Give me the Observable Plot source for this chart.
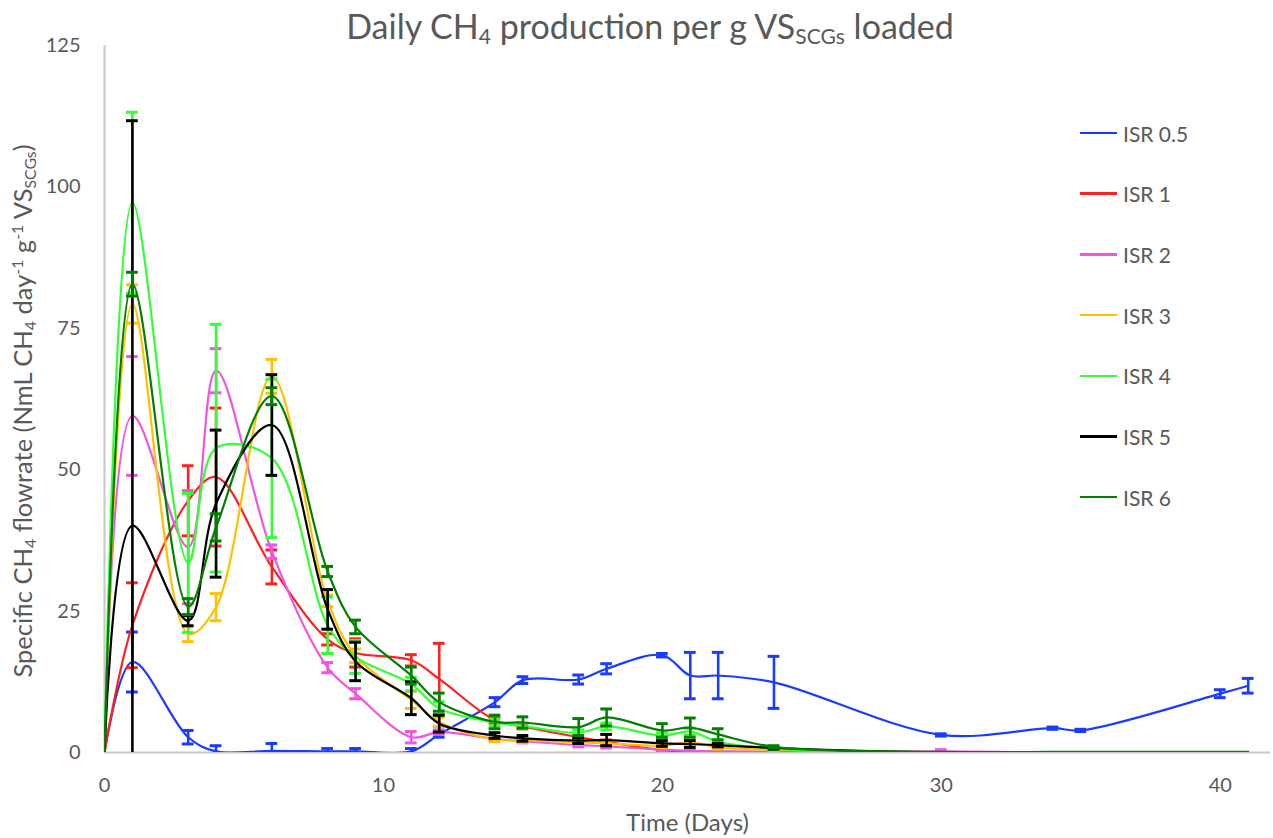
<!DOCTYPE html>
<html>
<head>
<meta charset="utf-8">
<script src="https://cdn.jsdelivr.net/npm/d3@7"></script>
<script src="https://cdn.jsdelivr.net/npm/@observablehq/plot@0.6"></script>
<style>
  html, body { margin: 0; padding: 0; background: #fff; }
  #wrap { position: relative; width: 1273px; height: 838px; overflow: hidden; font-family: Lato, "Open Sans", sans-serif; color: #595959; }
  #chart { position: absolute; left: 0; top: 0; }
  #title { position: absolute; left: 650px; top: 5px; transform: translateX(-50%); white-space: nowrap; font-size: 34px; }
  #title sub, #ylabel sub { font-size: 62%; vertical-align: -0.25em; line-height: 0; }
  #ylabel sup { font-size: 62%; vertical-align: 0.55em; line-height: 0; }
  #ylabel { position: absolute; left: 22px; top: 411px; transform: translate(-50%, -50%) rotate(-90deg); white-space: nowrap; font-size: 25.5px; }
  .leg { position: absolute; left: 1080px; height: 26px; display: flex; align-items: center; font-size: 21px; white-space: nowrap; }
  .leg .sw { width: 37px; height: 2.5px; margin-right: 6px; }
  #chart g[aria-label="x-axis label"] text { font-size: 24px; }
  #chart g[aria-label="x-axis tick label"] text { font-size: 20px; }
  #chart g[aria-label="y-axis tick label"] text { font-size: 20px; }
</style>
</head>
<body>
<div id="wrap">
  <div id="chart"></div>
  <div id="title">Daily CH<sub>4</sub> production per g VS<sub>SCGs</sub> loaded</div>
  <div id="ylabel">Specific CH<sub>4</sub> flowrate (NmL CH<sub>4</sub> day<sup>-1</sup> g<sup>-1</sup> VS<sub>SCGs</sub>)</div>
</div>
<script>
// ---- data ----
const days = [0, 1, 3, 4, 6, 8, 9, 11, 12, 14, 15, 17, 18, 20, 21, 22, 24, 30, 34, 35, 40, 41];

const seriesNames = ["ISR 0.5", "ISR 1", "ISR 2", "ISR 3", "ISR 4", "ISR 5", "ISR 6"];
const seriesColors = ["#1a3cff", "#ff2020", "#ef55e0", "#ffc000", "#33ff33", "#000000", "#008000"];

const isr05    = [0, 16.0, 2.7, 0.2, 0.3, 0.2, 0.2, 0.2, 3.2, 8.9, 12.8, 12.9, 14.8, 17.2, 13.6, 13.6, 12.4, 3.1, 4.3, 3.9, 10.4, 11.8];
const isr05Err = [0, 5.3, 1.2, 1.0, 1.3, 0.5, 0.5, 0.5, 0.5, 0.8, 0.6, 0.8, 0.9, 0.3, 4.1, 4.1, 4.6, 0.2, 0.2, 0.2, 0.7, 1.3];

const isr1     = [0, 22.5, 44.5, 48.7, 32.8, 20.0, 17.6, 16.3, 13.0, 5.7, 4.6, 2.7, 1.9, 0.4, 0.2, 0.1, 0.1, 0, 0, 0, 0, 0];
const isr1Err  = [0, 7.5, 6.2, 12.2, 3.0, 1.0, 2.5, 1.0, 6.3, 0.5, 0.4, 0.3, 0.3, 0.2, 0.1, 0.1, 0.1, 0, 0, 0, 0, 0];

const isr2     = [0, 59.5, 36.3, 67.5, 35.5, 15.0, 10.4, 2.7, 3.6, 2.4, 2.0, 1.3, 1.1, 0.5, 0.3, 0.2, 0.1, 0.2, 0, 0, 0, 0];
const isr2Err  = [0, 10.5, 10.0, 3.9, 1.2, 0.9, 0.9, 1.0, 0.4, 0.3, 0.3, 0.3, 0.3, 0.2, 0.1, 0.1, 0.1, 0.3, 0, 0, 0, 0];

const isr3     = [0, 79.3, 21.0, 25.7, 66.5, 26.8, 17.1, 9.3, 5.4, 2.3, 2.2, 1.8, 1.6, 1.2, 1.8, 0.9, 0.5, 0, 0, 0, 0, 0];
const isr3Err  = [0, 3.4, 1.4, 2.4, 3.0, 1.0, 1.2, 1.5, 0.8, 0.4, 0.4, 0.3, 0.3, 0.3, 0.5, 0.3, 0.2, 0, 0, 0, 0, 0];

const isr4     = [0, 97.2, 33.5, 53.8, 52.0, 22.5, 16.9, 12.1, 7.8, 5.3, 4.7, 3.5, 4.6, 3.0, 3.7, 1.9, 0.7, 0, 0, 0, 0, 0];
const isr4Err  = [0, 16.0, 12.3, 21.9, 14.0, 5.0, 2.9, 1.2, 1.2, 0.6, 0.5, 0.5, 0.6, 0.5, 0.6, 0.4, 0.2, 0, 0, 0, 0, 0];

const isr5     = [0, 40.1, 23.3, 44.0, 57.9, 25.3, 16.1, 9.6, 5.1, 3.0, 2.5, 2.1, 2.2, 1.6, 1.5, 1.3, 0.8, 0, 0, 0, 0, 0];
const isr5Err  = [0, 71.6, 0.9, 13.0, 8.9, 3.5, 3.4, 2.9, 1.5, 0.5, 0.5, 0.5, 1.0, 0.5, 0.6, 0.3, 0.2, 0, 0, 0, 0, 0];

const isr6     = [0, 82.8, 25.8, 39.8, 63.0, 32.0, 22.2, 13.6, 8.9, 5.4, 5.3, 4.5, 6.2, 3.9, 4.4, 3.2, 1.0, 0.1, 0.1, 0.1, 0.1, 0.1];
const isr6Err  = [0, 2.1, 1.4, 2.4, 1.5, 0.9, 1.2, 1.5, 1.6, 1.2, 1.0, 1.5, 1.5, 1.2, 1.7, 1.0, 0.2, 0, 0, 0, 0, 0];

const xTicks = [0, 10, 20, 30, 40];
const yTicks = [0, 25, 50, 75, 100, 125];

// ---- build tidy tables ----
const seriesValues = [isr05, isr1, isr2, isr3, isr4, isr5, isr6];
const seriesErrors = [isr05Err, isr1Err, isr2Err, isr3Err, isr4Err, isr5Err, isr6Err];

const capHalf = 0.21; // cap half-width in days
const marks = [];
seriesNames.forEach((name, i) => {
  const color = seriesColors[i];
  const rows = days.map((d, j) => ({series: name, day: d, v: seriesValues[i][j], e: seriesErrors[i][j]}));
  const errRows = rows.filter(r => r.e > 0);
  const caps = errRows.flatMap(r => [{day: r.day, y: r.v + r.e}, {day: r.day, y: r.v - r.e}]);
  marks.push(Plot.line(rows, {x: "day", y: "v", stroke: color, strokeWidth: 2.2, curve: "catmull-rom", clip: true}));
  marks.push(Plot.ruleX(errRows, {x: "day", y1: r => r.v - r.e, y2: r => r.v + r.e, stroke: color, strokeWidth: 2.6, clip: true}));
  marks.push(Plot.ruleY(caps, {y: "y", x1: r => r.day - capHalf, x2: r => r.day + capHalf, stroke: color, strokeWidth: 3, clip: true}));
});

const chart = Plot.plot({
  width: 1273,
  height: 838,
  marginLeft: 104,
  marginRight: 3,
  marginTop: 45,
  marginBottom: 86,
  style: {fontSize: "20px", fontFamily: "Lato, 'Open Sans', sans-serif", color: "#595959", background: "transparent"},
  x: {domain: [0, 41.8], ticks: xTicks, tickSize: 0, tickPadding: 25, tickFormat: d => String(d), label: "Time (Days)", labelAnchor: "center", labelOffset: 78, labelArrow: "none"},
  y: {domain: [0, 125], ticks: yTicks, tickSize: 0, tickPadding: 24, tickFormat: d => String(d), label: null},
  marks: [
    Plot.ruleX([0], {stroke: "#c8c8c8", strokeWidth: 2}),
    Plot.ruleY([0], {stroke: "#c8c8c8", strokeWidth: 2}),
    ...marks
  ]
});
document.getElementById("chart").appendChild(chart);

// legend (HTML)
const wrap = document.getElementById("wrap");
seriesNames.forEach((name, i) => {
  const item = document.createElement("div");
  item.className = "leg";
  item.style.top = (120 + i * 60.7) + "px";
  const sw = document.createElement("div");
  sw.className = "sw";
  sw.style.background = seriesColors[i];
  const t = document.createElement("span");
  t.textContent = name;
  item.appendChild(sw);
  item.appendChild(t);
  wrap.appendChild(item);
});
</script>
</body>
</html>
